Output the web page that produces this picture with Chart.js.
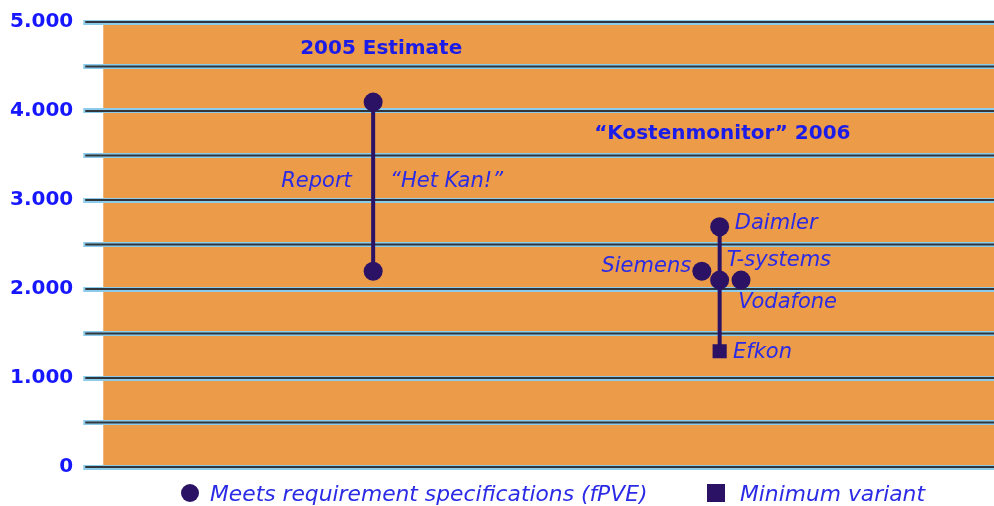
<!DOCTYPE html>
<html>
<head>
<meta charset="utf-8">
<script src="https://cdn.jsdelivr.net/npm/chart.js@4.4.1/dist/chart.umd.min.js"></script>
<style>
  html, body { margin: 0; padding: 0; background: #fff; }
  #wrap { position: relative; width: 994px; height: 506px; overflow: hidden; }
  #legend { position: absolute; left: 0; top: 480px; width: 994px; height: 26px;
    font: italic 21.8px "DejaVu Sans", sans-serif; color: #2b2be6; }
  .item { position: absolute; top: 0; display: flex; align-items: center; height: 26px; white-space: nowrap; }
  .mark { width: 18px; height: 18px; margin-right: 11px; background: #2b1265; }
  .mark.square { margin-right: 15px; }
  .mark.circle { border-radius: 50%; }
</style>
</head>
<body>
<div id="wrap">
  <canvas id="myChart" width="994" height="506"></canvas>
  <div id="legend"></div>
</div>
<script>
"use strict";

const seriesNames = ["Meets requirement specifications (fPVE)", "Minimum variant"];

// Report "Het Kan!" (2005 estimate): high and low end
const estimateX = [3.03, 3.03];
const estimateY = [4100, 2200];

// "Kostenmonitor" 2006
const monitorNames = ["Daimler", "Siemens", "Vodafone", "T-systems"];
const monitorX = [6.92, 6.72, 6.92, 7.16];
const monitorY = [2700, 2200, 2100, 2100];

const minimumNames = ["Efkon"];
const minimumX = [6.92];
const minimumY = [1300];

const yMin = 0;
const yMax = 5000;
const yStep = 500;

const pointColor = "#2b1265";
const labelBlue = "#2b2be6";
const boldBlue = "#1c1ce8";

const toPoints = (xs, ys) => xs.map((x, i) => ({ x: x, y: ys[i] }));

const notes = [
  { text: "2005 Estimate", x: 3.12, y: 4700, align: "center", bold: true },
  { text: "\u201CKostenmonitor\u201D 2006", x: 6.95, y: 3740, align: "center", bold: true },
  { text: "Report", x: 2.79, y: 3210, align: "right" },
  { text: "\u201CHet Kan!\u201D", x: 3.22, y: 3210, align: "left" },
  { text: monitorNames[0], x: 7.09, y: 2740, align: "left" },
  { text: monitorNames[1], x: 6.60, y: 2250, align: "right" },
  { text: monitorNames[3], x: 7.00, y: 2315, align: "left" },
  { text: monitorNames[2], x: 7.13, y: 1845, align: "left" },
  { text: minimumNames[0], x: 7.07, y: 1285, align: "left" },
];

const formatThousands = (v) => String(v).replace(/\B(?=(\d{3})+(?!\d))/g, ".");

const plotBackground = {
  id: "plotBackground",
  beforeDraw(chart) {
    const { ctx, chartArea } = chart;
    ctx.save();
    ctx.fillStyle = "#ec9b48";
    ctx.fillRect(chartArea.left, chartArea.top, chartArea.right - chartArea.left, chartArea.bottom - chartArea.top);
    ctx.restore();
  },
};

// dark core on top of the light blue grid lines
const gridCore = {
  id: "gridCore",
  beforeDatasetsDraw(chart) {
    const { ctx, chartArea } = chart;
    const y = chart.scales.y;
    ctx.save();
    ctx.strokeStyle = "#30363c";
    ctx.lineWidth = 2;
    y.ticks.forEach((t) => {
      const py = y.getPixelForValue(t.value);
      ctx.beginPath();
      ctx.moveTo(chartArea.left - 18, py);
      ctx.lineTo(chartArea.right, py);
      ctx.stroke();
    });
    ctx.restore();
  },
};

const noteLabels = {
  id: "noteLabels",
  afterDatasetsDraw(chart) {
    const { ctx } = chart;
    const sx = chart.scales.x;
    const sy = chart.scales.y;
    ctx.save();
    ctx.textBaseline = "middle";
    notes.forEach((n) => {
      ctx.font = n.bold ? "bold 20px 'DejaVu Sans'" : "italic 21px 'DejaVu Sans'";
      ctx.fillStyle = n.bold ? boldBlue : labelBlue;
      ctx.textAlign = n.align;
      ctx.fillText(n.text, sx.getPixelForValue(n.x), sy.getPixelForValue(n.y));
    });
    ctx.restore();
  },
};

const ctx = document.getElementById("myChart").getContext("2d");
const myChart = new Chart(ctx, {
  type: "scatter",
  data: {
    datasets: [
      {
        label: seriesNames[0],
        data: toPoints(estimateX, estimateY).concat(toPoints(monitorX, monitorY)),
        pointStyle: "circle",
        pointRadius: 9.5,
        pointHoverRadius: 9.5,
        backgroundColor: pointColor,
        borderWidth: 0,
        order: 0,
      },
      {
        label: seriesNames[1],
        data: toPoints(minimumX, minimumY),
        pointStyle: "rect",
        pointRadius: 10,
        pointHoverRadius: 10,
        backgroundColor: pointColor,
        borderWidth: 0,
        order: 0,
      },
      {
        label: "estimate range",
        data: toPoints(estimateX, estimateY),
        showLine: true,
        pointRadius: 0,
        borderColor: pointColor,
        borderWidth: 4,
        order: 1,
      },
      {
        label: "monitor range",
        data: [toPoints(monitorX, monitorY)[0]].concat(toPoints(minimumX, minimumY)),
        showLine: true,
        pointRadius: 0,
        borderColor: pointColor,
        borderWidth: 4,
        order: 1,
      },
    ],
  },
  options: {
    responsive: false,
    animation: false,
    layout: { autoPadding: false, padding: { top: 20, left: 0, right: 0, bottom: 39 } },
    scales: {
      x: {
        type: "linear",
        min: 0,
        max: 10,
        display: false,
      },
      y: {
        min: yMin,
        max: yMax,
        border: { display: false },
        grid: {
          color: "#8ccbea",
          lineWidth: 5,
          drawTicks: true,
          tickLength: 20,
          tickColor: "#8ccbea",
        },
        ticks: {
          stepSize: yStep,
          autoSkip: false,
          padding: 10,
          color: "#1616ff",
          font: { family: "DejaVu Sans", size: 20, weight: "bold" },
          callback: (v) => (v % 1000 === 0 ? formatThousands(v) : ""),
        },
      },
    },
    plugins: {
      legend: { display: false },
      tooltip: { enabled: false },
    },
  },
  plugins: [plotBackground, gridCore, noteLabels],
});

// html legend from the two point series
const legendBox = document.getElementById("legend");
const legendLeft = [181, 707];
myChart.data.datasets.slice(0, 2).forEach((ds, i) => {
  const item = document.createElement("div");
  item.className = "item";
  item.style.left = legendLeft[i] + "px";
  const mark = document.createElement("span");
  mark.className = "mark " + (ds.pointStyle === "circle" ? "circle" : "square");
  const text = document.createElement("span");
  text.textContent = ds.label;
  item.appendChild(mark);
  item.appendChild(text);
  legendBox.appendChild(item);
});
</script>
</body>
</html>
